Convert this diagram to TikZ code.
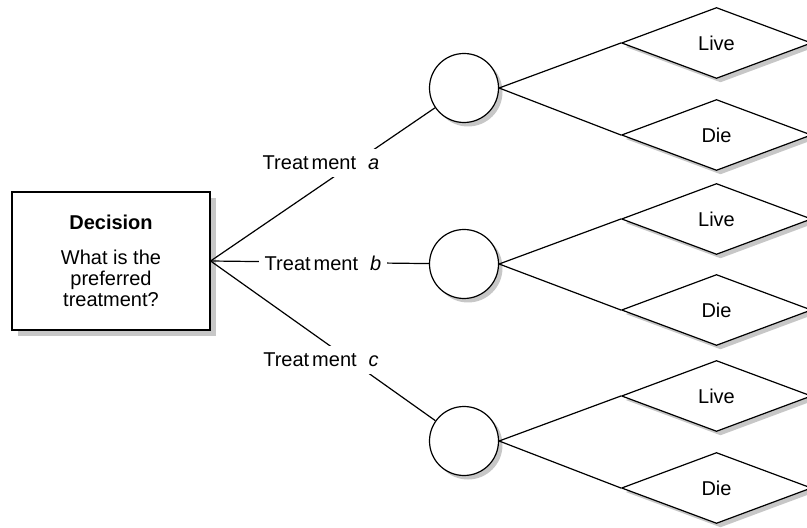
\documentclass[tikz,border=0pt]{standalone}
\usepackage{fontspec}
\setmainfont{Liberation Sans}
\usetikzlibrary{shapes.geometric,shadows}
\newcommand{\treat}[1]{Treat\kern1.5pt ment\hspace{0.6em}\textit{#1}}
\tikzset{
  sh/.style={drop shadow={shadow xshift=2pt,shadow yshift=-2pt,fill=black!22,opacity=1}},
  decisionbox/.style={draw,fill=white,align=center,minimum width=99pt,minimum height=69pt,inner sep=0pt,
    drop shadow={shadow xshift=3.2pt,shadow yshift=-3.2pt,fill=black!22,opacity=1}},
  chance/.style={draw,circle,fill=white,minimum size=34.5pt,inner sep=0pt,sh},
  outcome/.style={draw,diamond,fill=white,aspect=2.68,minimum width=95pt,minimum height=35.5pt,inner sep=0pt,sh},
  choice/.style={fill=white,inner xsep=3pt,inner ysep=3.5pt}
}
\begin{document}
\begin{tikzpicture}[x=0.5pt,y=-0.5pt,line width=0.6pt,font=\fontsize{10}{10.5}\selectfont]
  \useasboundingbox (0,0) rectangle (807,528);
  \draw
    (111,261) node[decisionbox] (d){\textbf{Decision}\\[7pt]What is the\\preferred\\treatment?}
    (464,88) node[chance] (ca){}
    (464,264) node[chance] (cb){}
    (464,441) node[chance] (cc){}
    (716.5,43) node[outcome] (la){Live}
    (716.5,135) node[outcome] (da){Die}
    (716.5,219) node[outcome] (lb){Live}
    (716.5,310) node[outcome] (db){Die}
    (716.5,396) node[outcome] (lc){Live}
    (716.5,488) node[outcome] (dc){Die};
  % branches
  \begin{scope}[-]
    \draw (d.east) to (ca);
    \draw (d.east) to (cb);
    \draw (d.east) to (cc);
    \draw (ca.east) to (la.west);
    \draw (ca.east) to (da.west);
    \draw (cb.east) to (lb.west);
    \draw (cb.east) to (db.west);
    \draw (cc.east) to (lc.west);
    \draw (cc.east) to (dc.west);
  \end{scope}
  % labels on the branches
  \node[choice] (ta) at (321,163) {\treat{a}};
  \node[choice] (tb) at (323,263) {\treat{b}};
  \node[choice] (tc) at (321,360) {\treat{c}};
\end{tikzpicture}
\end{document}
